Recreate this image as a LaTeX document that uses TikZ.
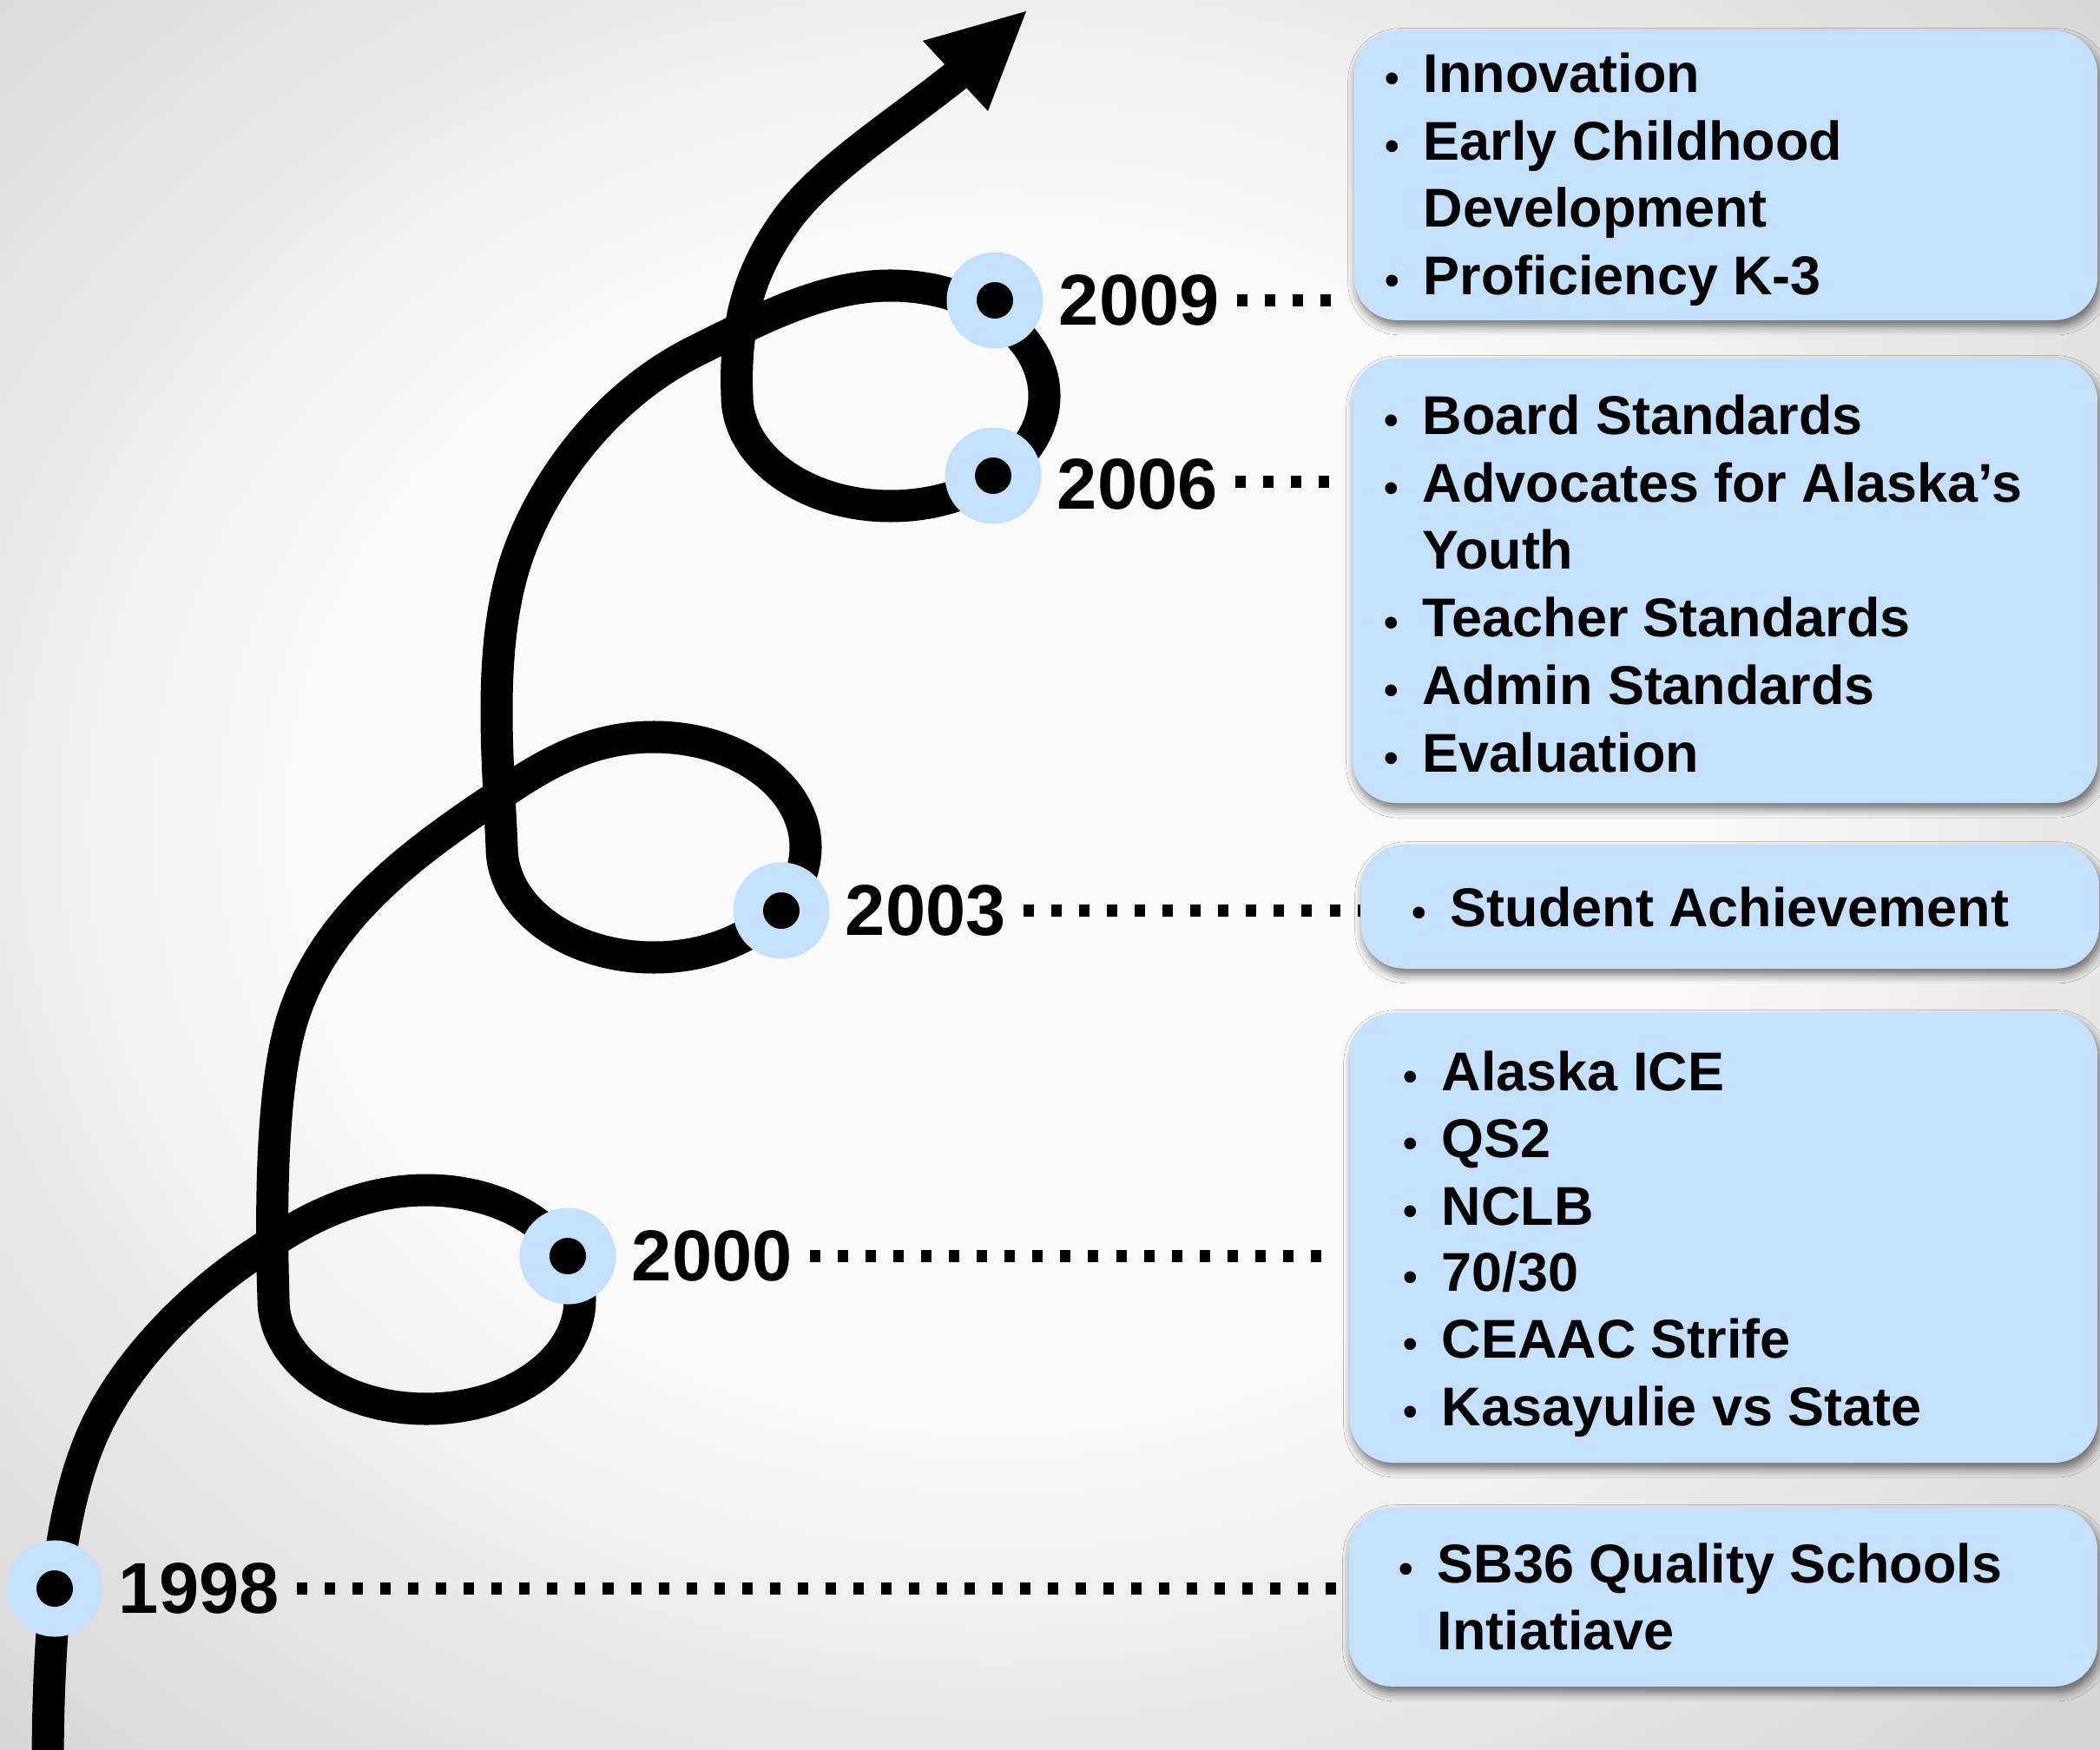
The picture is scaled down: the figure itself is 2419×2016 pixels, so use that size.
\documentclass[tikz,border=0pt]{standalone}
\usepackage{fontspec}
\setmainfont{Liberation Sans}
\usetikzlibrary{positioning,shadows.blur}
\definecolor{bgc}{RGB}{250,250,250}
\definecolor{bge}{RGB}{212,212,212}
\definecolor{nodeblue}{RGB}{197,224,252}
\definecolor{boxblue}{RGB}{197,224,252}
\pgfdeclareradialshading{bgshade}{\pgfpoint{0bp}{0bp}}{color(0bp)=(bgc); color(11.25bp)=(bgc); color(25bp)=(bge); color(50bp)=(bge)}
\newcommand\myyearfont{\fontsize{23.6pt}{28pt}\selectfont\bfseries}
\newcommand\myboxfont{\fontsize{17.9pt}{22pt}\selectfont\bfseries}
\newcommand\bul{\makebox[0.47cm][l]{\hspace{0.03cm}{\fontsize{13.5pt}{13.5pt}\selectfont •}}}
\newcommand\nobul{\hspace*{0.47cm}}
\tikzset{
  mainline/.style={line width=0.37cm, black, line join=round},
  yearnode/.style={circle, fill=nodeblue, minimum size=1.11cm, inner sep=0pt,
    path picture={\fill[black] (path picture bounding box.center) circle (0.21cm);}},
  yearlab/.style={inner sep=0pt, font=\myyearfont},
  leader/.style={line width=0.14cm, dash pattern=on 0.12cm off 0.20cm, shorten >=0.13cm},
  infobox/.style={fill=boxblue, rounded corners=0.5cm, anchor=north west, inner sep=0pt,
    blur shadow={shadow xshift=0.03cm, shadow yshift=-0.07cm, shadow blur radius=0.1cm, shadow opacity=55}},
  boxline/.style={anchor=base west, inner sep=0pt, font=\myboxfont}
}
\begin{document}
\begin{tikzpicture}[x=0.01cm, y=-0.01cm]
\useasboundingbox (0,0) rectangle (2419,2016);
% background
\fill[bge] (0,0) rectangle (2419,2016);
\begin{scope}
  \clip (0,0) rectangle (2419,2016);
  \shade[shading=bgshade] (1150,950) ellipse [x radius=1750, y radius=1500];
\end{scope}

% main curve
\draw[mainline] (55,2040)
 .. controls (55,1860) and (70,1730) .. (110,1645)
 .. controls (150,1560) and (230,1485) .. (300,1440)
 .. controls (357,1400) and (420,1371) .. (491,1371)
 .. controls (589,1371) and (668,1427) .. (668,1497)
 .. controls (668,1567) and (589,1623) .. (491,1623)
 .. controls (393,1623) and (315,1567) .. (315,1497)
 .. controls (312,1400) and (312,1260) .. (335,1180)
 .. controls (370,1060) and (470,985) .. (584,910)
 .. controls (640,872) and (690,849) .. (753,849)
 .. controls (850,849) and (928,906) .. (928,976)
 .. controls (928,1046) and (850,1103) .. (753,1103)
 .. controls (656,1103) and (578,1046) .. (578,976)
 .. controls (574,880) and (562,760) .. (590,660)
 .. controls (615,570) and (690,460) .. (800,405)
 .. controls (880,365) and (950,329) .. (1026,329)
 .. controls (1124,329) and (1203,386) .. (1203,456)
 .. controls (1203,526) and (1124,583) .. (1026,583)
 .. controls (928,583) and (849,526) .. (849,456)
 .. controls (846,380) and (860,320) .. (900,262)
 .. controls (940,200) and (1030,145) .. (1108,82);
\fill[black] (1182,13) -- (1063,47) -- (1138,128) -- cycle;

% year nodes
\node[yearnode] (n1998) at (63,1830) {};
\node[yearnode] (n2000) at (654,1447) {};
\node[yearnode] (n2003) at (900,1049) {};
\node[yearnode] (n2006) at (1144,548) {};
\node[yearnode] (n2009) at (1146,346) {};

% year labels
\node[yearlab, right=0.17cm of n1998] (l1998) {1998};
\node[yearlab, right=0.17cm of n2000] (l2000) {2000};
\node[yearlab, right=0.17cm of n2003] (l2003) {2003};
\node[yearlab, right=0.17cm of n2006, yshift=-0.1cm] (l2006) {2006};
\node[yearlab, right=0.17cm of n2009] (l2009) {2009};

% boxes
\node[infobox, minimum width=8.56cm, minimum height=3.33cm] (b2009) at (1559,35) {};
\node[infobox, minimum width=8.58cm, minimum height=5.12cm] (b2006) at (1557,412) {};
\node[infobox, minimum width=8.50cm, minimum height=1.43cm] (b2003) at (1567,972) {};
\node[infobox, minimum width=8.61cm, minimum height=5.18cm] (b2000) at (1554,1166) {};
\node[infobox, minimum width=8.62cm, minimum height=2.06cm] (b1998) at (1553,1736) {};

% dotted leaders
\coordinate (s1998) at ([xshift=0.2cm]l1998.east);
\coordinate (s2000) at ([xshift=0.2cm]l2000.east);
\coordinate (s2003) at ([xshift=0.2cm]l2003.east);
\coordinate (s2006) at ([xshift=0.2cm, yshift=0.03cm]l2006.east);
\coordinate (s2009) at ([xshift=0.2cm]l2009.east);
\draw[leader] (s1998) -- (s1998 -| b1998.west);
\draw[leader] (s2000) -- (s2000 -| b2000.west);
\draw[leader, shorten >=0cm] (s2003) -- (s2003 -| b2003.west);
\draw[leader] (s2006) -- (s2006 -| b2006.west);
\draw[leader] (s2009) -- (s2009 -| b2009.west);

% box texts
\node[boxline] (t09a) at (1592,107) {\bul Innovation};
\node[boxline] (t09b) at (1592,185) {\bul Early Childhood};
\node[boxline] (t09c) at (1592,262) {\nobul Development};
\node[boxline] (t09d) at (1592,340) {\bul Proficiency K-3};

\node[boxline] (t06a) at (1591,501) {\bul Board Standards};
\node[boxline] (t06b) at (1591,579) {\bul Advocates for Alaska’s};
\node[boxline] (t06c) at (1591,656) {\nobul Youth};
\node[boxline] (t06d) at (1591,734) {\bul Teacher Standards};
\node[boxline] (t06e) at (1591,811) {\bul Admin Standards};
\node[boxline] (t06f) at (1591,889) {\bul Evaluation};

\node[boxline] (t03a) at (1623,1067) {\bul Student Achievement};

\node[boxline] (t00a) at (1613,1256) {\bul Alaska ICE};
\node[boxline] (t00b) at (1613,1333) {\bul QS2};
\node[boxline] (t00c) at (1613,1411) {\bul NCLB};
\node[boxline] (t00d) at (1613,1487) {\bul 70/30};
\node[boxline] (t00e) at (1613,1564) {\bul CEAAC Strife};
\node[boxline] (t00f) at (1613,1642) {\bul Kasayulie vs State};

\node[boxline] (t98a) at (1608,1823) {\bul SB36 Quality Schools};
\node[boxline] (t98b) at (1608,1900) {\nobul Intiatiave};
\end{tikzpicture}
\end{document}
